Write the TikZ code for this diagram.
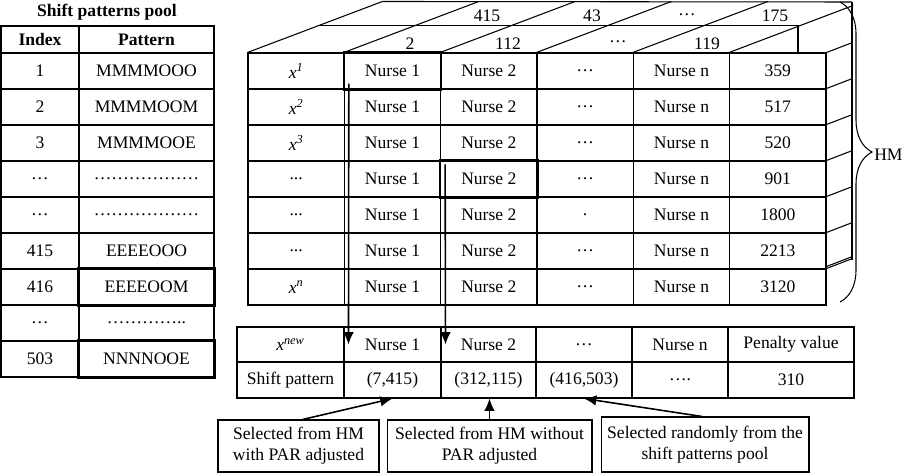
\documentclass[tikz,border=0pt]{standalone}
\usepackage{fontspec}
\setmainfont{Liberation Serif}
\usepackage{tikz}
\usetikzlibrary{arrows.meta, positioning, calc, decorations.pathreplacing}

\newcommand{\hmvec}[1]{\textit{x}\textsuperscript{\textit{#1}}}

\tikzset{
  cell/.style={draw, minimum width=1.927cm, minimum height=0.72cm, inner sep=0pt},
  poolcell/.style={draw, minimum height=0.72cm, inner sep=0pt},
  pick/.style={draw, line width=1.4pt},
  sel/.style={draw, align=center, minimum height=1.04cm, inner sep=2pt},
  arr/.style={line width=0.9pt, -{Latex[length=7pt, width=6pt]}},
}

\begin{document}
\begin{tikzpicture}[x=0.02cm, y=-0.02cm, line width=0.6pt]
    \useasboundingbox (0,0) rectangle (905,474);

    % shift patterns pool
    \node[font=\bfseries] (pooltitle) at (107,12) {Shift patterns pool};
    \node[poolcell, minimum width=1.56cm, minimum height=0.54cm, font=\bfseries] (pool-0-1) at (40,39.5) {Index};
    \node[poolcell, minimum width=2.7cm, minimum height=0.54cm, font=\bfseries] (pool-0-2) at (146.5,39.5) {Pattern};
    \foreach \r/\idx/\pat in {1/1/MMMMOOO, 2/2/MMMMOOM, 3/3/MMMMOOE, 4/…/………………, 5/…/………………,
                              6/415/EEEEOOO, 7/416/EEEEOOM, 8/…/………….., 9/503/NNNNOOE}{
        \node[poolcell, minimum width=1.56cm] (pool-\r-1) at (40,{53+36*(\r-0.5)}) {\idx};
        \node[poolcell, minimum width=2.7cm] (pool-\r-2) at (146.5,{53+36*(\r-0.5)}) {\pat};
    }
    \draw[pick] (pool-7-2.north west) rectangle (pool-7-2.south east);
    \draw[pick] (pool-9-2.north west) rectangle (pool-9-2.south east);

    % harmony memory, front face
    \foreach \r/\lab/\gap/\pen in {1/{\hmvec{1}}/…/359, 2/{\hmvec{2}}/…/517, 3/{\hmvec{3}}/…/520,
                                   4/{...}/…/901, 5/{...}/./1800, 6/{...}/…/2213, 7/{\hmvec{n}}/…/3120}{
        \node[cell] (hm-\r-1) at (296.17,{53+36*(\r-0.5)}) {\lab};
        \node[cell] (hm-\r-2) at (392.5,{53+36*(\r-0.5)}) {Nurse 1};
        \node[cell] (hm-\r-3) at (488.83,{53+36*(\r-0.5)}) {Nurse 2};
        \node[cell] (hm-\r-4) at (585.17,{53+36*(\r-0.5)}) {\gap};
        \node[cell] (hm-\r-5) at (681.5,{53+36*(\r-0.5)}) {Nurse n};
        \node[cell] (hm-\r-6) at (777.83,{53+36*(\r-0.5)}) {\pen};
    }
    \draw[pick] (hm-1-2.north west) rectangle (hm-1-2.south east);
    \draw[pick] (hm-4-3.north west) rectangle (hm-4-3.south east);

    % top face
    \foreach \c in {1,...,5}
        \draw (hm-1-\c.north west) -- ++(135,-51);
    \draw (hm-1-6.north west) -- ++(124,-47);
    \draw ($(hm-1-1.north west)+(71.5,-27)$) -- ++(479,0) -- ++(0,27);
    \draw ($(hm-1-1.north west)+(135,-51)$) -- (852,2);
    \node (mid-1) at (410,44) {2};
    \node (mid-2) at (508,44) {112};
    \node (mid-3) at (618,42) {…};
    \node (mid-4) at (707,44) {119};
    \node (back-1) at (487,16) {415};
    \node (back-2) at (592,16) {43};
    \node (back-3) at (687,15) {…};
    \node (back-4) at (775,16) {175};

    % side face
    \foreach \r in {1,...,7}
        \draw (hm-\r-6.north east) -- ++(26,-10);
    \draw ($(hm-7-6.north east)+(0,-2)$) -- ++(26,-10);
    \draw (852,2) -- (852,260);

    % HM brace
    \draw[decorate, decoration={brace, amplitude=0.64cm}] (840,2) -- (840,302);
    \node[anchor=west, inner sep=1pt] (hm-label) at (872,155) {HM};

    % new harmony
    \foreach \c/\x/\w/\upper/\lower in {1/290.5/2.14/{\hmvec{new}}/Shift pattern, 2/392.5/1.94/Nurse 1/{(7,415)},
                                        3/488.5/1.9/Nurse 2/{(312,115)}, 4/584/1.92/…/{(416,503)},
                                        5/680/1.92/Nurse n/…., 6/791/2.52/Penalty value/310}{
        \node[draw, minimum width=\w cm, minimum height=0.7cm, inner sep=0pt] (new-1-\c) at (\x,344.5) {\upper};
        \node[draw, minimum width=\w cm, minimum height=0.72cm, inner sep=0pt] (new-2-\c) at (\x,380) {\lower};
    }
    \draw[arr] ($(hm-1-2.south west)+(5,-6)$) -- ($(new-1-2.west)+(5,0)$);
    \draw[arr] ($(hm-4-3.north west)+(5,4)$) -- ($(new-1-3.west)+(5,0)$);

    % how each pattern was picked
    \node[sel, minimum width=3.22cm] (sel-par) at (298.5,446) {Selected from HM\\with PAR adjusted};
    \node[sel, minimum width=4.1cm] (sel-nopar) at (489.5,446) {Selected from HM without\\PAR adjusted};
    \node[sel, minimum width=4.16cm, minimum height=1.1cm] (sel-rand) at (705,444.5) {Selected randomly from the\\shift patterns pool};
    \draw[arr] ($(sel-par.north)+(4,0)$) -- (new-2-2.south);
    \draw[arr] (sel-nopar.north) -- (sel-nopar.north |- new-2-3.south);
    \draw[arr] ($(sel-rand.north)+(-3,0)$) -- (new-2-4.south);
\end{tikzpicture}
\end{document}
